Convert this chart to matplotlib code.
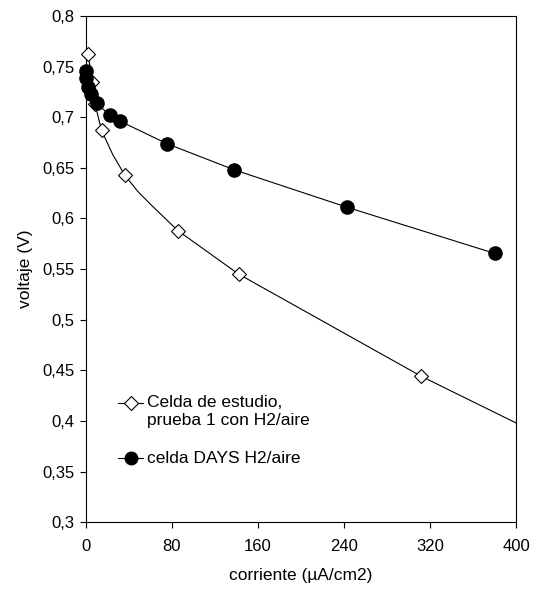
import numpy as np
import matplotlib.pyplot as plt
from matplotlib.ticker import FuncFormatter, MultipleLocator

plt.rcParams['font.family'] = ['Liberation Sans', 'DejaVu Sans']

# Celda de estudio, prueba 1 con H2/aire (open diamonds)
estudio_i = [2, 6, 8.5, 14.5, 36, 85.5, 142, 312]
estudio_v = [0.762, 0.735, 0.713, 0.687, 0.643, 0.588, 0.545, 0.444]
# curve as drawn (runs past the last point to the edge)
curva_i = [2, 6, 8.5, 14.5, 25, 36, 48, 61, 85.5, 142, 312, 400]
curva_v = [0.762, 0.735, 0.713, 0.687, 0.663, 0.643, 0.627, 0.613, 0.588, 0.545, 0.444, 0.398]

# celda DAYS H2/aire (filled circles)
days_i = [0, 0, 2, 5, 10, 22, 32, 75, 138, 243, 380]
days_v = [0.746, 0.739, 0.730, 0.723, 0.714, 0.702, 0.696, 0.674, 0.648, 0.611, 0.5655]

fig = plt.figure(figsize=(5.37, 5.92), dpi=100)
ax = fig.add_axes([0.160, 0.118, 0.801, 0.855])

ax.plot(curva_i, curva_v, color='black', lw=0.8, clip_on=False, zorder=2)
ax.plot(estudio_i, estudio_v, linestyle='none', marker='D', ms=7,
        mfc='white', mec='black', mew=0.8, clip_on=False, zorder=3)
ax.plot(days_i, days_v, color='black', lw=0.8, marker='o', ms=9.5,
        mfc='black', mec='black', clip_on=False, zorder=4)

ax.set_xlim(0, 400)
ax.set_ylim(0.3, 0.8)
ax.xaxis.set_major_locator(MultipleLocator(80))
ax.yaxis.set_major_locator(MultipleLocator(0.05))
ax.yaxis.set_major_formatter(FuncFormatter(lambda v, p: f"{v:.2f}".rstrip('0').replace('.', ',')))
ax.tick_params(direction='out', length=4, width=0.8, labelsize=12, pad=4)
ax.tick_params(axis='x', pad=8)
for s in ax.spines.values():
    s.set_linewidth(0.8)

ax.set_xlabel('corriente (µA/cm2)', fontsize=12.5, labelpad=10)
ax.set_ylabel('voltaje (V)', fontsize=12.5, labelpad=7)

# legend drawn by hand so the diamond handle sits on the first text line
tr = ax.transAxes
ax.plot([0.075, 0.133], [0.236, 0.236], transform=tr, color='black', lw=0.8, clip_on=False)
ax.plot([0.104], [0.236], transform=tr, marker='D', ms=7, mfc='white',
        mec='black', mew=0.8, clip_on=False)
ax.text(0.143, 0.236, 'Celda de estudio,', transform=tr, fontsize=12.5, va='center')
ax.text(0.143, 0.200, 'prueba 1 con H2/aire', transform=tr, fontsize=12.5, va='center')
ax.plot([0.075, 0.133], [0.126, 0.126], transform=tr, color='black', lw=0.8, clip_on=False)
ax.plot([0.104], [0.126], transform=tr, marker='o', ms=9, mfc='black',
        mec='black', clip_on=False)
ax.text(0.143, 0.126, 'celda DAYS H2/aire', transform=tr, fontsize=12.5, va='center')

fig.savefig('out.png', dpi=100)
